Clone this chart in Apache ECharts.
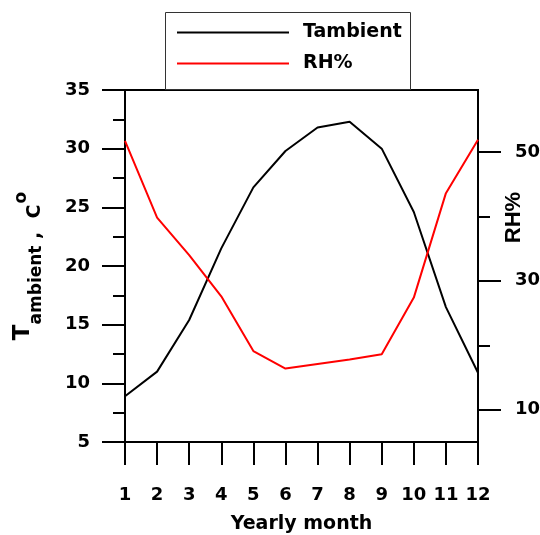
<!DOCTYPE html>
<html>
<head>
<meta charset="utf-8">
<script src="https://cdn.jsdelivr.net/npm/echarts@6/dist/echarts.min.js"></script>
<style>
html,body{margin:0;padding:0;background:#fff;}
#c{width:540px;height:535px;}
</style>
</head>
<body>
<div id="c"></div>
<script>
const months = [1,2,3,4,5,6,7,8,9,10,11,12];
const tambient = [8.9, 11.0, 15.4, 21.5, 26.7, 29.8, 31.8, 32.3, 30.0, 24.6, 16.5, 10.9];
const rh = [51.7, 39.8, 34.0, 27.6, 19.1, 16.4, 17.1, 17.8, 18.6, 27.4, 43.6, 51.9];
const rhMajorTicks = [10, 30, 50];
const rhMinorTicks = [20, 40];

const FONT = 'DejaVu Sans';
const chart = echarts.init(document.getElementById('c'), null, {renderer: 'canvas'});
const blk = '#000';
const tickLbl = {color: blk, fontFamily: FONT, fontWeight: 'bold', fontSize: 18};

chart.setOption({
  animation: false,
  backgroundColor: '#fff',
  grid: {left: 125, top: 90, width: 353, height: 352, show: true, borderColor: blk, borderWidth: 2, backgroundColor: 'transparent', containLabel: false, outerBoundsMode: 'none'},
  graphic: [{
    type: 'rect', shape: {x: 165.5, y: 12.5, width: 245, height: 77},
    style: {fill: '#fff', stroke: '#333', lineWidth: 1}, z: 0
  }],
  legend: {
    orient: 'vertical', left: 177, top: 22, itemWidth: 112, itemHeight: 2, itemGap: 10,
    icon: 'rect', padding: 0, z: 10,
    textStyle: {color: blk, fontFamily: FONT, fontWeight: 'bold', fontSize: 19, lineHeight: 21, padding: [0,0,0,9]},
    data: ['Tambient', 'RH%']
  },
  xAxis: {
    type: 'value', min: 1, max: 12, interval: 1,
    name: 'Yearly month', nameLocation: 'middle', nameGap: 73, nameMoveOverlap: false,
    nameTextStyle: {color: blk, fontFamily: FONT, fontWeight: 'bold', fontSize: 19},
    axisLine: {lineStyle: {color: blk, width: 2}},
    axisTick: {length: 23, lineStyle: {color: blk, width: 2}},
    axisLabel: Object.assign({margin: 44, showMinLabel: true, showMaxLabel: true}, tickLbl),
    splitLine: {show: false}
  },
  yAxis: [{
    type: 'value', min: 5, max: 35, interval: 5, position: 'left',
    name: '{T|T}{s|ambient}{c| ,  C}{o|o}', nameLocation: 'middle', nameRotate: 90, nameGap: 80, nameMoveOverlap: false,
    nameTextStyle: {
      color: blk, fontFamily: FONT, fontWeight: 'bold',
      rich: {
        T: {fontFamily: FONT, fontWeight: 'bold', color: blk, fontSize: 23, lineHeight: 23, verticalAlign: 'bottom', padding: [0,0,10,0]},
        s: {fontFamily: FONT, fontWeight: 'bold', color: blk, fontSize: 17, lineHeight: 17, verticalAlign: 'bottom'},
        c: {fontFamily: FONT, fontWeight: 'bold', color: blk, fontSize: 19, lineHeight: 19, verticalAlign: 'bottom'},
        o: {fontFamily: FONT, fontWeight: 'bold', color: blk, fontSize: 17, lineHeight: 17, verticalAlign: 'bottom', padding: [0,0,15,1]}
      }
    },
    axisLine: {show: true, lineStyle: {color: blk, width: 2}},
    axisTick: {show: true, length: 23, lineStyle: {color: blk, width: 2}},
    minorTick: {show: true, splitNumber: 2, length: 12, lineStyle: {color: blk, width: 2}},
    axisLabel: Object.assign({margin: 35}, tickLbl),
    splitLine: {show: false}, minorSplitLine: {show: false}
  }, {
    type: 'value', min: 5, max: 59.6, position: 'right',
    name: 'RH%', nameLocation: 'middle', nameRotate: 90, nameGap: 25, nameMoveOverlap: false,
    nameTextStyle: {color: blk, fontFamily: 'Liberation Sans', fontWeight: 'bold', fontSize: 22, padding: [0,0,0,97]},
    axisLine: {show: true, lineStyle: {color: blk, width: 2}},
    axisTick: {show: true, length: 23, customValues: rhMajorTicks, lineStyle: {color: blk, width: 2}},
    axisLabel: Object.assign({margin: 37, customValues: rhMajorTicks}, tickLbl),
    splitLine: {show: false}
  }, {
    type: 'value', min: 5, max: 59.6, position: 'right',
    axisLine: {show: true, lineStyle: {color: blk, width: 2}},
    axisTick: {show: true, length: 12, customValues: rhMinorTicks, lineStyle: {color: blk, width: 2}},
    axisLabel: {show: false},
    splitLine: {show: false}
  }],
  series: [{
    name: 'Tambient', type: 'line', yAxisIndex: 0, symbol: 'none',
    lineStyle: {color: '#000', width: 2}, itemStyle: {color: '#000'},
    data: months.map((m, i) => [m, tambient[i]])
  }, {
    name: 'RH%', type: 'line', yAxisIndex: 1, symbol: 'none',
    lineStyle: {color: '#ff0000', width: 2}, itemStyle: {color: '#ff0000'},
    data: months.map((m, i) => [m, rh[i]])
  }]
});
</script>
</body>
</html>
